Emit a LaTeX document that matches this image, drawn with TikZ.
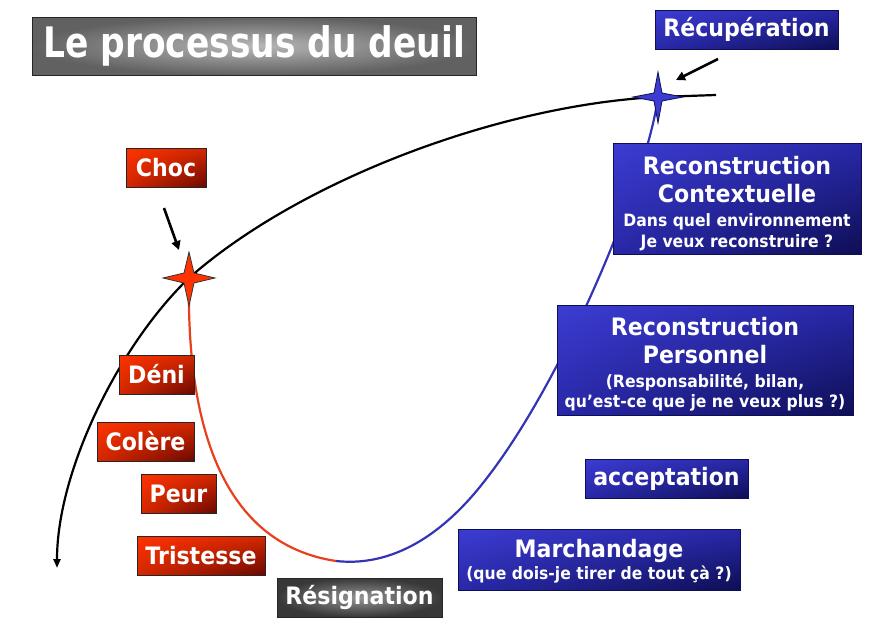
\documentclass[tikz,border=0pt]{standalone}
\usepackage{fontspec}
\newfontfamily\lab[FakeStretch=0.92]{DejaVu Sans}
\newfontfamily\tlab[FakeStretch=0.82]{DejaVu Sans}
\usetikzlibrary{arrows.meta,shadings}
\definecolor{rbright}{HTML}{FF3300}
\definecolor{rmid}{HTML}{D42800}
\definecolor{rdark}{HTML}{6A0800}
\definecolor{bbright}{HTML}{3C3CD2}
\definecolor{bmid}{HTML}{2828A8}
\definecolor{bdark}{HTML}{0E0E55}
\definecolor{curvered}{HTML}{E8401C}
\definecolor{curveblue}{HTML}{3434B4}
\newcommand{\bigf}{\lab\bfseries\fontsize{24}{29}\selectfont}
\newcommand{\subf}{\lab\bfseries\fontsize{17}{21}\selectfont}
\begin{document}
\begin{tikzpicture}[x=1pt,y=-1pt,
  box/.style={draw=black!85, line width=0.8pt, inner sep=0pt, align=center, text=white, font=\bigf},
  redbox/.style={box, upper left=rbright, upper right=rmid, lower left=rmid, lower right=rdark},
  bluebox/.style={box, draw=bdark, upper left=bbright, upper right=bmid, lower left=bmid, lower right=bdark},
  greybox/.style={box, inner color=black!42, outer color=black!78},
  titlebox/.style={box, inner color=black!28, outer color=black!62},
  boxtext/.style={inner sep=0pt, align=center, text=white, font=\bigf},
  pointer/.style={line width=2.6pt, -{Triangle[length=9pt,width=9pt]}},
  main/.style={line width=2.2pt},
  star/.style={line width=0.8pt, line join=miter}
]
\useasboundingbox (0,0) rectangle (879,629);
\fill[white] (0,0) rectangle (879,629);

% curves
\coordinate (rs) at (189,278);
\coordinate (bs) at (658,97);
\coordinate (bend) at (716,95);
\coordinate (tail) at (57,568);
\coordinate (low) at (336,561);

\draw[main, black, -{Triangle[length=9pt,width=7pt]}] (bend) -- (bs) .. controls (500,105) and (300,180) .. (rs) .. controls (120,344) and (57,470) .. (tail);
\draw[main, curvered] (rs) .. controls (186,440) and (230,545) .. (low);
\draw[main, curveblue] (low) .. controls (400,568) and (450,525) .. (483,483) .. controls (565,380) and (648,175) .. (bs);

% stars
\filldraw[star, fill=rbright, draw=black!80] (rs) ++(0,-26) -- ++(5,21) -- ++(21,5) -- ++(-21,5) -- ++(-5,23) -- ++(-5,-23) -- ++(-21,-5) -- ++(21,-5) -- cycle;
\filldraw[star, fill=bbright, draw=bdark] (bs) ++(0,-25) -- ++(4,21) -- ++(21,4) -- ++(-21,4) -- ++(-4,22) -- ++(-4,-22) -- ++(-21,-4) -- ++(21,-4) -- cycle;

% title
\node[titlebox, minimum width=444, minimum height=58, font=\tlab\bfseries\fontsize{42}{44}\selectfont] (title) at (254,46) {Le processus du deuil};

% red boxes
\node[redbox, minimum width=80, minimum height=39] (choc) at (166,167.5) {Choc};
\node[redbox, minimum width=75, minimum height=39] (deni) at (156.5,374.5) {Déni};
\node[redbox, minimum width=97, minimum height=39] (colere) at (145.5,441.5) {Colère};
\node[redbox, minimum width=75, minimum height=39] (peur) at (178.5,493.5) {Peur};
\node[redbox, minimum width=128, minimum height=39] (trist) at (201,555.5) {Tristesse};
\node[greybox, minimum width=165, minimum height=39] (resig) at (359.5,597.5) {Résignation};

% blue boxes
\node[bluebox, minimum width=183, minimum height=39] (recup) at (746.5,29.5) {Récupération};
\node[bluebox, minimum width=248, minimum height=111] (rctx) at (737,198.5) {};
\node[boxtext] (rctxT) at (737,204) {Reconstruction\\[-1pt]Contextuelle\\[-5pt]\subf Dans quel environnement\\[-8pt]\subf Je veux reconstruire ?};
\node[bluebox, minimum width=296, minimum height=110] (rpers) at (705,360) {};
\node[boxtext] (rpersT) at (705,364) {Reconstruction\\[-1pt]Personnel\\[-5pt]\subf (Responsabilité, bilan,\\[-9pt]\subf qu’est-ce que je ne veux plus ?)};
\node[bluebox, minimum width=163, minimum height=39] (accept) at (666.5,478.5) {acceptation};
\node[bluebox, minimum width=282, minimum height=61] (march) at (599,559.5) {};
\node[boxtext] (marchT) at (599,561) {Marchandage\\[-7pt]\subf (que dois-je tirer de tout çà ?)};

% pointers
\coordinate (chocA) at (164,208);
\coordinate (chocB) at (179,250);
\coordinate (recA) at (718,59);
\coordinate (recB) at (676,80);
\draw[pointer] (chocA) -- (chocB);
\draw[pointer] (recA) -- (recB);
\end{tikzpicture}
\end{document}
